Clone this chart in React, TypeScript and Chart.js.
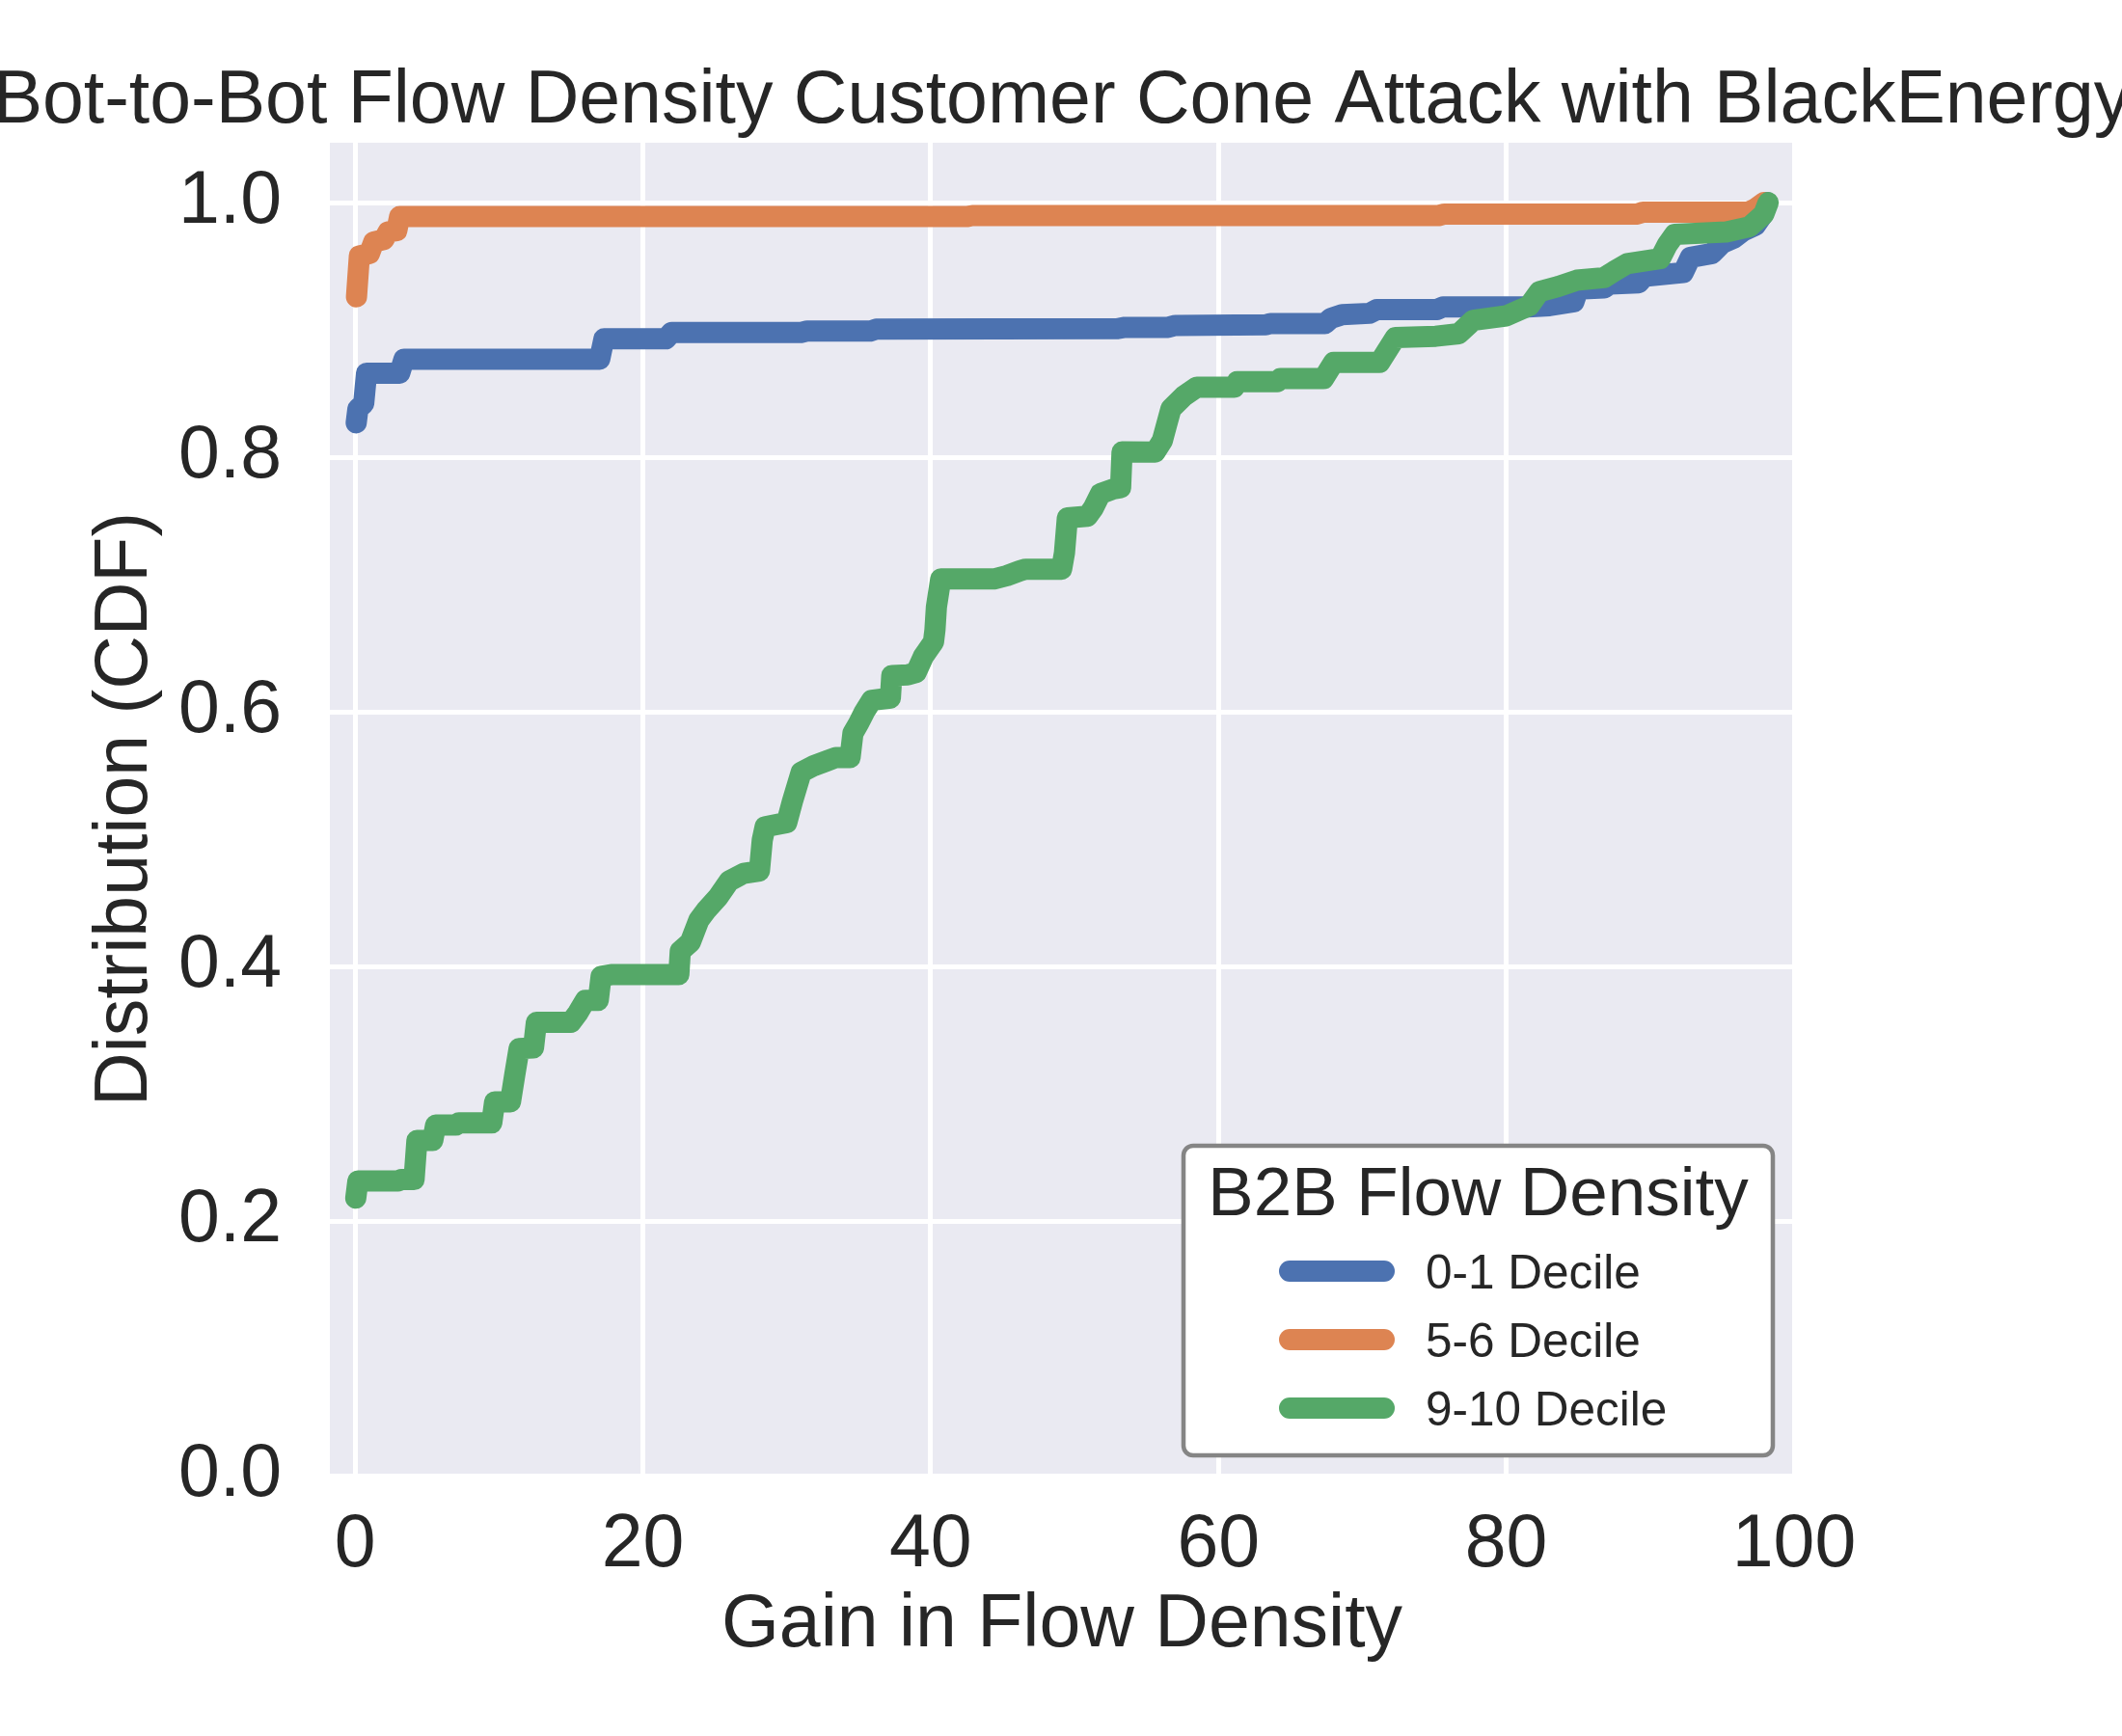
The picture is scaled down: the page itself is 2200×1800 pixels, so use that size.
import React, { useEffect, useRef } from 'react';
import { Chart, registerables } from 'chart.js';

Chart.register(...registerables);

const FONT = '"Liberation Sans", Arial, Helvetica, sans-serif';
const INK = '#262626';

const TITLE = 'Bot-to-Bot Flow Density Customer Cone Attack with BlackEnergy';
const X_LABEL = 'Gain in Flow Density';
const Y_LABEL = 'Distribution (CDF)';
const LEGEND_TITLE = 'B2B Flow Density';
const SERIES_LABELS = ['0-1 Decile', '5-6 Decile', '9-10 Decile'];
const SERIES_COLORS = ['#4C72B0', '#DD8452', '#55A868'];

const X_TICKS = [0, 20, 40, 60, 80, 100];
const Y_TICKS = [0, 0.2, 0.4, 0.6, 0.8, 1.0];

// 0-1 decile CDF
const LOW_X = [0.08, 0.2, 0.6, 0.8, 3.1, 3.4, 17.0, 17.3, 21.6, 22.0, 31.0, 31.4, 35.8, 36.2, 53.0, 53.5, 56.5, 57.0, 63.3, 63.6, 67.4, 67.8, 68.6, 70.5, 71.0, 75.2, 75.6, 81.5, 83.0, 84.7, 85.0, 86.8, 87.2, 89.2, 89.6, 92.3, 92.8, 94.3, 95.0, 95.8, 96.5, 97.3, 97.8, 98.1];
const LOW_Y = [0.827, 0.838, 0.842, 0.866, 0.866, 0.877, 0.877, 0.893, 0.893, 0.898, 0.898, 0.899, 0.899, 0.9005, 0.901, 0.902, 0.902, 0.9035, 0.904, 0.905, 0.905, 0.909, 0.912, 0.913, 0.916, 0.916, 0.918, 0.918, 0.919, 0.922, 0.932, 0.933, 0.936, 0.937, 0.942, 0.945, 0.957, 0.96, 0.968, 0.972, 0.978, 0.982, 0.99, 1.0];

// 5-6 decile CDF
const MID_X = [0.1, 0.3, 1.0, 1.3, 2.0, 2.3, 2.9, 3.1, 42.5, 42.9, 75.3, 75.7, 89.1, 89.5, 96.8, 97.3, 97.9];
const MID_Y = [0.926, 0.958, 0.96, 0.969, 0.971, 0.977, 0.978, 0.989, 0.989, 0.9898, 0.9898, 0.991, 0.991, 0.9925, 0.9925, 0.995, 1.0];

// 9-10 decile CDF
const HIGH_X = [0.05, 0.2, 3.0, 3.2, 4.1, 4.3, 5.4, 5.6, 7.0, 7.2, 9.5, 9.7, 10.8, 11.1, 11.4, 12.4, 12.6, 15.0, 15.5, 16.0, 16.9, 17.1, 17.8, 22.5, 22.6, 23.3, 23.9, 24.4, 25.2, 26.0, 27.0, 28.1, 28.3, 28.5, 30.0, 30.4, 31.0, 31.9, 32.8, 33.4, 34.4, 34.6, 35.0, 35.4, 35.9, 37.2, 37.3, 38.4, 39.0, 39.5, 40.2, 40.3, 40.4, 40.7, 44.4, 45.3, 46.2, 46.6, 49.1, 49.3, 49.5, 50.9, 51.3, 51.8, 52.7, 53.2, 53.3, 55.6, 56.1, 56.4, 56.7, 57.6, 58.5, 61.1, 61.3, 64.1, 64.3, 67.3, 68.0, 71.2, 72.3, 75.1, 76.7, 77.7, 80.0, 81.6, 82.3, 83.6, 84.9, 86.8, 87.5, 88.4, 90.7, 91.2, 91.7, 95.3, 96.9, 97.9, 98.2];
const HIGH_Y = [0.218, 0.2315, 0.2315, 0.2325, 0.2325, 0.2633, 0.2633, 0.2753, 0.2753, 0.277, 0.277, 0.2936, 0.2936, 0.315, 0.3354, 0.336, 0.356, 0.356, 0.3637, 0.3733, 0.3733, 0.3922, 0.3935, 0.3935, 0.412, 0.419, 0.4365, 0.444, 0.454, 0.467, 0.473, 0.475, 0.4994, 0.5097, 0.513, 0.5298, 0.5524, 0.5577, 0.5615, 0.564, 0.564, 0.5831, 0.591, 0.6, 0.609, 0.6108, 0.6285, 0.629, 0.631, 0.6436, 0.655, 0.6644, 0.6823, 0.7043, 0.7043, 0.7069, 0.7107, 0.712, 0.712, 0.725, 0.7523, 0.7536, 0.76, 0.7713, 0.775, 0.776, 0.8041, 0.804, 0.813, 0.8256, 0.838, 0.848, 0.855, 0.855, 0.8593, 0.8593, 0.8617, 0.8617, 0.8744, 0.8744, 0.894, 0.895, 0.897, 0.9075, 0.911, 0.919, 0.93, 0.934, 0.939, 0.941, 0.946, 0.952, 0.956, 0.967, 0.975, 0.977, 0.981, 0.991, 1.0];

const toPoints = (xs: number[], ys: number[]) => xs.map((x, i) => ({ x, y: ys[i] }));

// grey-blue panel behind the grid, like the seaborn darkgrid style
const panelBackground = {
  id: 'panelBackground',
  beforeDraw(chart: Chart) {
    const { ctx, chartArea } = chart;
    ctx.save();
    ctx.fillStyle = '#EAEAF2';
    ctx.fillRect(chartArea.left, chartArea.top, chartArea.right - chartArea.left, chartArea.bottom - chartArea.top);
    ctx.restore();
  },
};

// title centred over the plot; drawn by hand so it is not squeezed to fit
const plotTitle = {
  id: 'plotTitle',
  afterDraw(chart: Chart) {
    const { ctx, chartArea } = chart;
    ctx.save();
    ctx.font = `77px ${FONT}`;
    ctx.fillStyle = INK;
    ctx.textAlign = 'center';
    ctx.textBaseline = 'alphabetic';
    ctx.fillText(TITLE, (chartArea.left + chartArea.right) / 2, chartArea.top - 21);
    ctx.restore();
  },
};

// legend box in the lower right corner of the plot, with a title
const legendBox = {
  id: 'legendBox',
  afterDatasetsDraw(chart: Chart) {
    const { ctx, chartArea } = chart;
    const w = 611;
    const h = 321;
    const left = chartArea.right - 22 - w;
    const top = chartArea.bottom - 21 - h;
    ctx.save();
    ctx.beginPath();
    ctx.roundRect(left, top, w, h, 10);
    ctx.fillStyle = '#ffffff';
    ctx.fill();
    ctx.lineWidth = 4.5;
    ctx.strokeStyle = '#858585';
    ctx.stroke();

    ctx.fillStyle = INK;
    ctx.textBaseline = 'alphabetic';
    ctx.textAlign = 'center';
    ctx.font = `71px ${FONT}`;
    ctx.fillText(LEGEND_TITLE, left + w / 2, top + 72);

    ctx.textAlign = 'left';
    ctx.font = `49.5px ${FONT}`;
    chart.data.datasets.forEach((ds, i) => {
      const y = top + 130 + i * 71;
      ctx.beginPath();
      ctx.moveTo(left + 110, y);
      ctx.lineTo(left + 208, y);
      ctx.lineWidth = 22;
      ctx.lineCap = 'round';
      ctx.strokeStyle = ds.borderColor as string;
      ctx.stroke();
      ctx.fillStyle = INK;
      ctx.fillText(ds.label ?? '', left + 251, y + 17.5);
    });
    ctx.restore();
  },
};

const App: React.FC = () => {
  const canvasRef = useRef<HTMLCanvasElement | null>(null);

  useEffect(() => {
    const canvas = canvasRef.current;
    if (!canvas) return;

    const series = [
      { xs: LOW_X, ys: LOW_Y, order: 3 },
      { xs: MID_X, ys: MID_Y, order: 2 },
      { xs: HIGH_X, ys: HIGH_Y, order: 1 },
    ];

    const chart = new Chart(canvas, {
      type: 'line',
      data: {
        datasets: series.map((s, i) => ({
          label: SERIES_LABELS[i],
          data: toPoints(s.xs, s.ys),
          borderColor: SERIES_COLORS[i],
          backgroundColor: SERIES_COLORS[i],
          borderWidth: 22,
          borderCapStyle: 'round',
          borderJoinStyle: 'round',
          pointRadius: 0,
          tension: 0,
          fill: false,
          order: s.order,
        })),
      },
      options: {
        responsive: false,
        devicePixelRatio: 1,
        animation: false,
        layout: { padding: { left: 0, right: 340, top: 148, bottom: 0 } },
        plugins: {
          legend: { display: false },
          tooltip: { enabled: false },
          title: { display: false },
        },
        scales: {
          x: {
            type: 'linear',
            min: -1.75,
            max: 100,
            afterBuildTicks: (scale) => {
              scale.ticks = X_TICKS.map((v) => ({ value: v }));
            },
            afterFit: (scale) => {
              scale.height = 270;
            },
            grid: { color: '#ffffff', lineWidth: 5, drawTicks: false },
            border: { display: false },
            ticks: {
              color: INK,
              font: { family: FONT, size: 77 },
              padding: 27,
              maxRotation: 0,
              autoSkip: false,
              callback: (v) => String(v),
            },
            title: {
              display: true,
              text: X_LABEL,
              color: INK,
              font: { family: FONT, size: 77 },
              padding: { top: 0, bottom: 68 },
            },
          },
          y: {
            type: 'linear',
            min: 0,
            max: 1.047,
            afterBuildTicks: (scale) => {
              scale.ticks = Y_TICKS.map((v) => ({ value: v }));
            },
            afterFit: (scale) => {
              scale.width = 342;
            },
            grid: { color: '#ffffff', lineWidth: 5, drawTicks: false },
            border: { display: false },
            ticks: {
              color: INK,
              font: { family: FONT, size: 77 },
              padding: 50,
              autoSkip: false,
              callback: (v) => Number(v).toFixed(1),
            },
            title: {
              display: true,
              text: Y_LABEL,
              color: INK,
              font: { family: FONT, size: 77 },
              padding: { top: 85, bottom: 0 },
            },
          },
        },
      },
      plugins: [panelBackground, legendBox, plotTitle],
    });

    return () => {
      chart.destroy();
    };
  }, []);

  return (
    <div style={{ position: 'absolute', left: 0, top: 0, width: 2200, height: 1800, background: '#ffffff' }}>
      <canvas ref={canvasRef} width={2200} height={1800} style={{ display: 'block', width: 2200, height: 1800 }} />
    </div>
  );
};

export default App;
